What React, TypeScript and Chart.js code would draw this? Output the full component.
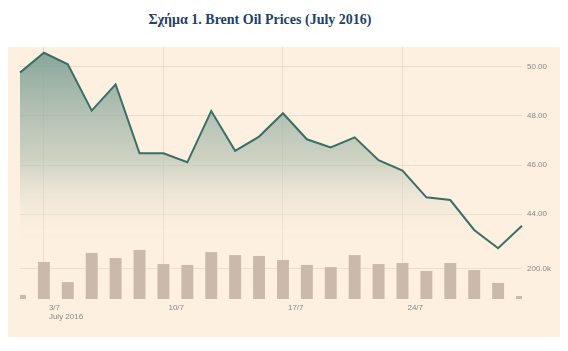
import React, { useEffect, useRef } from "react";
import { Chart, registerables } from "chart.js";

Chart.register(...registerables);

const xLabels: (string | string[])[] = [
  "", ["3/7", "July 2016"], "", "", "", "", "10/7", "", "", "", "", "17/7",
  "", "", "", "", "24/7", "", "", "", "", "",
];
const prices = [
  49.77, 50.58, 50.11, 48.22, 49.29, 46.48, 46.48, 46.11, 48.2, 46.58, 47.16,
  48.11, 47.05, 46.72, 47.13, 46.2, 45.77, 44.68, 44.57, 43.35, 42.6, 43.52,
];
const volumes = [
  27000, 247000, 113000, 307000, 273000, 327000, 233000, 227000, 313000, 293000,
  287000, 260000, 227000, 213000, 293000, 233000, 240000, 187000, 240000, 193000,
  107000, 20000,
];
const priceTicks = [44, 46, 48, 50];
const volumeTicks = [200000];

const PRICE_MIN = 40.531;
const PRICE_MAX = 50.816;
const VOL_MAX = 1680000;

const PANEL_BG = "#fdf0e1";
const GRID = "rgba(205,185,160,0.32)";
const TICK_FONT = { family: "'Liberation Sans', Arial, sans-serif", size: 8, lineHeight: 1.125 };

// price-axis positions that line up with the volume-axis ticks
const volAsPrice = (v: number) => PRICE_MIN + (v / VOL_MAX) * (PRICE_MAX - PRICE_MIN);

export default function App() {
  const ref = useRef<HTMLCanvasElement | null>(null);

  useEffect(() => {
    if (!ref.current) return;
    const volTickPos = volumeTicks.map(volAsPrice);
    const chart = new Chart(ref.current, {
      type: "line",
      data: {
        labels: xLabels as any,
        datasets: [
          {
            type: "bar",
            data: volumes,
            yAxisID: "vol",
            backgroundColor: "#cbbaa9",
            barPercentage: 0.5,
            categoryPercentage: 1,
            order: 1,
          } as any,
          {
            type: "line",
            data: prices,
            yAxisID: "price",
            borderColor: "#3a6f66",
            borderWidth: 2,
            pointRadius: 0,
            tension: 0,
            fill: "start",
            order: 2,
            backgroundColor: (ctx: any) => {
              const area = ctx.chart.chartArea;
              if (!area) return "rgba(120,155,145,0.5)";
              const g = ctx.chart.ctx.createLinearGradient(0, area.top, 0, area.bottom);
              g.addColorStop(0, "rgba(110,150,138,0.85)");
              g.addColorStop(0.45, "rgba(175,190,175,0.6)");
              g.addColorStop(0.78, "rgba(253,240,225,0)");
              return g;
            },
          } as any,
        ],
      },
      options: {
        animation: false,
        responsive: true,
        maintainAspectRatio: false,
        layout: { padding: { left: 12, top: 0, right: 0, bottom: 0 } },
        plugins: { legend: { display: false }, tooltip: { enabled: false }, title: { display: false } },
        scales: {
          x: {
            type: "category",
            offset: false,
            border: { display: false },
            grid: {
              offset: false,
              drawTicks: false,
              color: (ctx: any) => {
                const l = xLabels[ctx.index];
                return l && l.length ? GRID : "transparent";
              },
            },
            ticks: {
              autoSkip: false,
              maxRotation: 0,
              align: "start",
              labelOffset: 5,
              padding: 4,
              color: "#888",
              font: TICK_FONT,
            },
            afterFit: (s: any) => {
              s.height = 38;
              s.paddingLeft = 0;
              s.paddingRight = 0;
            },
          },
          vol: {
            type: "linear",
            display: false,
            min: 0,
            max: VOL_MAX,
          },
          price: {
            type: "linear",
            position: "right",
            min: PRICE_MIN,
            max: PRICE_MAX,
            border: { display: false },
            grid: { drawTicks: false, color: GRID },
            ticks: {
              padding: 5,
              color: "#888",
              font: TICK_FONT,
              callback: (v: any) => {
                const n = Number(v);
                const vi = volTickPos.findIndex((p) => Math.abs(p - n) < 1e-6);
                if (vi >= 0) return (volumeTicks[vi] / 1000).toFixed(1) + "k";
                return n.toFixed(2);
              },
            },
            afterBuildTicks: (s: any) => {
              s.ticks = [...volTickPos, ...priceTicks].map((v) => ({ value: v }));
            },
            afterFit: (s: any) => {
              s.width = 38;
              s.paddingTop = 0;
              s.paddingBottom = 0;
            },
          },
        },
      } as any,
    });
    return () => chart.destroy();
  }, []);

  return (
    <div style={{ width: 552, position: "relative" }}>
      <div
        style={{
          height: 39,
          lineHeight: "24px",
          textAlign: "center",
          paddingRight: 48,
          boxSizing: "border-box",
          fontFamily: "'Liberation Serif', 'Times New Roman', serif",
          fontWeight: "bold",
          fontSize: 14,
          color: "#243f66",
        }}
      >
        Σχήμα 1. Brent Oil Prices (July 2016)
      </div>
      <div style={{ width: 552, height: 290, background: PANEL_BG, position: "relative" }}>
        <canvas ref={ref} />
      </div>
      <div
        style={{
          position: "absolute",
          left: 10,
          top: 329,
          width: 542,
          height: 2,
          background: "#ddd2c6",
        }}
      />
    </div>
  );
}
